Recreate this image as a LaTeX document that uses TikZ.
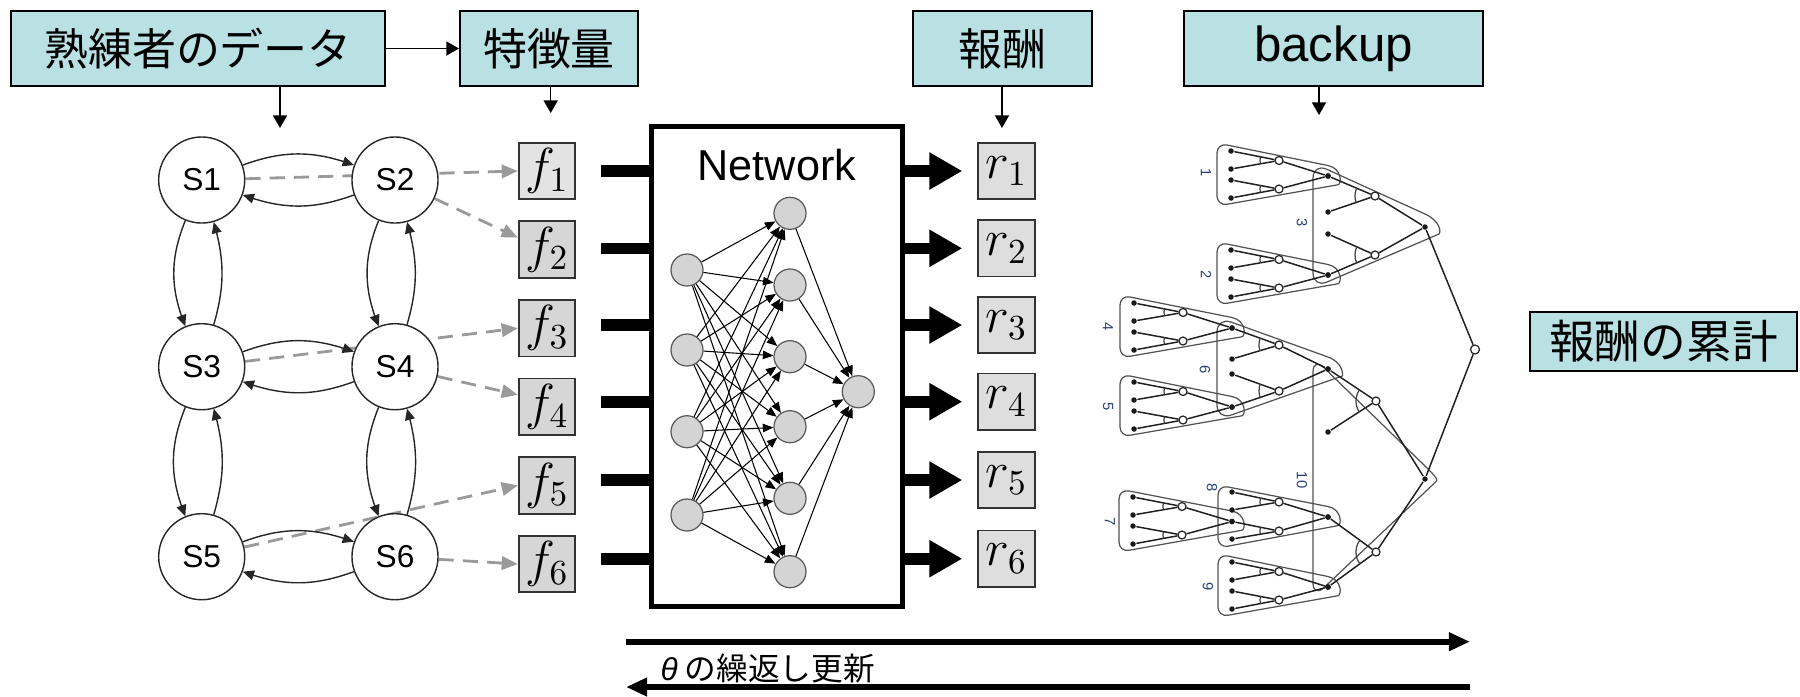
\documentclass[tikz,border=0pt]{standalone}
\usepackage[no-math]{fontspec}
\setmainfont{Liberation Sans}
\newfontfamily\jp{Noto Sans CJK JP}
\newfontfamily\lsans{Liberation Sans}
\usetikzlibrary{arrows.meta,calc,backgrounds,angles,bending}
\definecolor{boxc}{HTML}{B9E0E3}
\definecolor{dgray}{HTML}{9A9A9A}
\definecolor{lblc}{HTML}{2A3F73}
\def\splitfour#1 #2 #3 #4\relax{\def\yla{#1}\def\ylb{#2}\def\ylc{#3}\def\yld{#4}}
% AND-OR subtree: prefix, x leaves, x opens, x root, y root, y open1, y open2, leaves y, arc radius
\newcommand\andor[9]{%
  \splitfour#8\relax
  \node[blk] (#1r) at (#4,-#5) {};
  \node[opn] (#1a) at (#3,-#6) {};
  \node[opn] (#1b) at (#3,-#7) {};
  \node[blk] (#1l1) at (#2,-\yla) {};
  \node[blk] (#1l2) at (#2,-\ylb) {};
  \node[blk] (#1l3) at (#2,-\ylc) {};
  \node[blk] (#1l4) at (#2,-\yld) {};
  \draw[tedge] (#1r) -- (#1a);
  \draw[tedge] (#1r) -- (#1b);
  \draw[tedge] (#1a) -- (#1l1);
  \draw[tedge] (#1a) -- (#1l2);
  \draw[tedge] (#1b) -- (#1l3);
  \draw[tedge] (#1b) -- (#1l4);
  \pic[andarc, angle radius=#9] {angle=#1l1--#1a--#1l2};
  \pic[andarc, angle radius=#9] {angle=#1l3--#1b--#1l4};
}
% rounded triangular loop: x left, y top, y bottom, apex x, apex y, cap radius, corner
\newcommand\lp[7]{%
  \coordinate (q1) at (#1,-#2);
  \coordinate (q2) at (#1,-#3);
  \coordinate (q3) at (#4,-#5+#6);
  \coordinate (q4) at (#4,-#5-#6);
  \draw[loopline] (q3) [rounded corners=#7] -- (q1) -- (q2) -- (q4) [sharp corners]
     .. controls ($(q4)!-#6*0.0135cm!(q2)$) and ($(q3)!-#6*0.0135cm!(q1)$) .. (q3);
}
\begin{document}
\begin{tikzpicture}[x=0.01cm,y=0.01cm,
 topbox/.style={draw=black, line width=0.55pt, fill=boxc, inner sep=0pt, minimum height=0.75cm, font=\jp\fontsize{12.5}{14}\selectfont},
 thinarrow/.style={-{Triangle[length=3.6pt,width=4pt]}, line width=0.45pt},
 st/.style={circle, draw=black!85, line width=0.4pt, fill=white, minimum size=0.86cm, inner sep=0pt, font=\fontsize{9}{10}\selectfont},
 starrow/.style={-{Triangle[length=3.2pt,width=2.8pt]}, line width=0.4pt, black!85},
 dasharrow/.style={dgray, dash pattern=on 4.3pt off 2.6pt, line width=0.8pt, -{Triangle[length=4.6pt,width=3.8pt]}},
 fbox/.style={draw=black!80, line width=0.5pt, minimum size=0.565cm, inner sep=0pt, font=\fontsize{14}{16}\selectfont},
 nn/.style={circle, draw=black!65, fill=black!17, line width=0.35pt, minimum size=0.32cm, inner sep=0pt},
 nnarrow/.style={-{Triangle[length=3pt,width=2.4pt]}, line width=0.3pt},
 bar/.style={line width=3.3pt},
 bigarrow/.style={line width=3.3pt, -{Triangle[length=9.4pt,width=10pt]}, shorten >=0.15cm},
 longarrow/.style={line width=1.7pt, -{Triangle[length=6pt,width=5pt]}},
 blk/.style={circle, fill=black!90, inner sep=0pt, minimum size=0.055cm},
 opn/.style={circle, draw=black!85, fill=white, line width=0.35pt, inner sep=0pt, minimum size=0.08cm},
 tedge/.style={line width=0.42pt, black!88},
 loopline/.style={line width=0.35pt, black!68},
 andarc/.style={draw=black!75, line width=0.35pt},
 lbl/.style={font=\fontsize{4.2}{5}\selectfont, text=lblc, rotate=-90, inner sep=0pt},
]
\useasboundingbox (0,0) rectangle (1800,-696);

% ---- top label boxes ----
\node[topbox, minimum width=3.74cm] (b1) at (198,-48.5) {熟練者のデータ};
\node[topbox, minimum width=1.78cm] (b2) at (549,-48.5) {特徴量};
\node[topbox, minimum width=1.79cm] (b3) at (1002.5,-48.5) {報酬};
\node[topbox, minimum width=2.99cm, font=\fontsize{14}{16}\selectfont] (b4) at (1333.5,-48.5) {backup};
\node[topbox, minimum width=2.67cm, minimum height=0.59cm, font=\jp\fontsize{13}{15}\selectfont] (b5) at (1663.5,-341.5) {報酬の累計};
\draw[thinarrow] (b1) -- (b2);
\coordinate (a1) at (280,-128);
\coordinate (a2) at (550.7,-113);
\coordinate (a3) at (1002,-128);
\coordinate (a4) at (1319,-115);
\draw[thinarrow] (b1.south -| a1) -- (a1);
\draw[thinarrow] (b2.south -| a2) -- (a2);
\draw[thinarrow] (b3.south -| a3) -- (a3);
\draw[thinarrow] (b4.south -| a4) -- (a4);

% ---- state graph ----
\node[st] (S1) at (201.7,-180) {S1};
\node[st] (S2) at (395,-180) {S2};
\node[st] (S3) at (201.7,-366.7) {S3};
\node[st] (S4) at (395,-366.7) {S4};
\node[st] (S5) at (201.7,-556.7) {S5};
\node[st] (S6) at (395,-556.7) {S6};
\foreach \a/\b in {S1/S2,S3/S4,S5/S6}{
  \draw[starrow] (\a) to[bend left=20] (\b);
  \draw[starrow] (\b) to[bend left=20] (\a);
}
\foreach \a/\b in {S1/S3,S3/S5,S2/S4,S4/S6}{
  \draw[starrow] (\a) to[bend right=22] (\b);
  \draw[starrow] (\b) to[bend right=16] (\a);
}

% ---- feature boxes ----
\foreach \y/\c [count=\i] in {171/11,249.6/16,328.2/16,406.8/16,485.4/16,564/16}{
  \node[fbox, fill=black!\c] (f\i) at (547,-\y) {$f_{\i}$};
}
\begin{scope}[on background layer]
\draw[dasharrow] (S1) -- (f1.west);
\draw[dasharrow] (S2) -- ($(f2.west)+(0,12)$);
\draw[dasharrow] (S3) -- (f3.west);
\draw[dasharrow] (S4) -- ($(f4.west)+(0,12)$);
\draw[dasharrow] (S5) -- (f5.west);
\draw[dasharrow] (S6) -- (f6.west);
\end{scope}

% ---- network ----
\node[draw, line width=1.4pt, minimum width=2.5cm, minimum height=4.8cm, inner sep=0pt] (net) at (777,-366.7) {};
\node[font=\fontsize{12.3}{14}\selectfont, inner sep=0pt] (nettxt) at (777,-165) {Network};
\foreach \y [count=\i] in {270,350,431.7,515}{\node[nn] (in\i) at (687,-\y) {};}
\foreach \y [count=\j] in {213.3,285,356.7,426.7,498.3,571.7}{\node[nn] (h\j) at (790,-\y) {};}
\node[nn] (out) at (858.3,-391.7) {};
\foreach \i in {1,...,4}{\foreach \j in {1,...,6}{\draw[nnarrow] (in\i) -- (h\j);}}
\foreach \j in {1,...,6}{\draw[nnarrow] (h\j) -- (out);}

% ---- reward boxes and thick arrows ----
\foreach \y [count=\i] in {171,248.3,325,401.7,480,558.7}{
  \node[fbox, fill=black!13] (r\i) at (1006.5,-\y) {$r_{\i}$};
  \coordinate (bi\i) at (601,-\y);
  \draw[bar] (bi\i) -- (bi\i -| net.west);
  \draw[bigarrow] (net.east |- r\i) -- (r\i.west);
}

% ---- backup diagram ----
\lp{1217}{143}{206}{1328}{176}{10.5}{0.1cm}
\lp{1217}{242}{305}{1328}{275}{10.5}{0.1cm}
\lp{1120}{295}{358}{1232}{328}{10.5}{0.1cm}
\lp{1120}{374}{437}{1232}{407}{10.5}{0.1cm}
\lp{1119}{489}{552}{1232}{521.5}{10.5}{0.1cm}
\lp{1218}{485}{548}{1328}{517}{10.5}{0.1cm}
\lp{1218}{554}{617}{1328}{587}{10.5}{0.1cm}
\lp{1313}{163}{288}{1425}{227}{13}{0.15cm}
\lp{1217}{317}{420}{1328}{369}{12}{0.15cm}
\lp{1313}{357}{598}{1425}{479}{13}{0.15cm}

\andor{s3}{1328}{1375}{1425}{227}{196}{255}{176 212 234 275}{0.2cm}
\andor{s10}{1328}{1376}{1425}{479}{401}{552}{369 432 517 587}{0.2cm}
\andor{s6}{1232}{1279}{1328}{369}{345}{391}{328 359 374 407}{0.2cm}
\andor{s1}{1231}{1279}{1328}{176}{160.5}{189}{151 169 180 198}{0.19cm}
\andor{s2}{1231}{1279}{1328}{275}{259.5}{288}{250 268 279 297}{0.19cm}
\andor{s4}{1134}{1183}{1232}{328}{312.5}{341}{303 321 332 350}{0.19cm}
\andor{s5}{1134}{1183}{1232}{407}{391.5}{420}{382 400 411 429}{0.19cm}
\andor{s7}{1133}{1182}{1232}{521.5}{506.5}{535}{497 515 526 544}{0.19cm}
\andor{s8}{1232}{1279}{1328}{517}{502}{531}{492 510 521.5 539}{0.19cm}
\andor{s9}{1232}{1279}{1328}{587}{571.5}{600}{562 580 591 609}{0.19cm}

\node[opn, minimum size=0.09cm] (R0) at (1475,-349.5) {};
\draw[tedge] (R0) -- (s3r);
\draw[tedge] (R0) -- (s10r);

\node[lbl] (n1) at (1206,-173) {1};
\node[lbl] (n2) at (1206,-275) {2};
\node[lbl] (n3) at (1302,-223) {3};
\node[lbl] (n4) at (1108,-327) {4};
\node[lbl] (n5) at (1108,-407) {5};
\node[lbl] (n6) at (1205,-370) {6};
\node[lbl] (n7) at (1110,-522) {7};
\node[lbl] (n8) at (1212,-488) {8};
\node[lbl] (n9) at (1208,-587) {9};
\node[lbl] (n10) at (1302,-480) {10};

% ---- iteration arrows ----
\coordinate (u1) at (626,-641.7);
\coordinate (u2) at (1470,-641.7);
\draw[longarrow] (u1) -- (u2);
\coordinate (d1) at (1470,-687);
\coordinate (d2) at (626,-687);
\draw[longarrow] (d1) -- (d2);
\node[anchor=west, inner sep=0pt, font=\jp\fontsize{9}{11}\selectfont] (th) at (660,-668) {{\lsans\itshape θ} の繰返し更新};
\end{tikzpicture}
\end{document}
